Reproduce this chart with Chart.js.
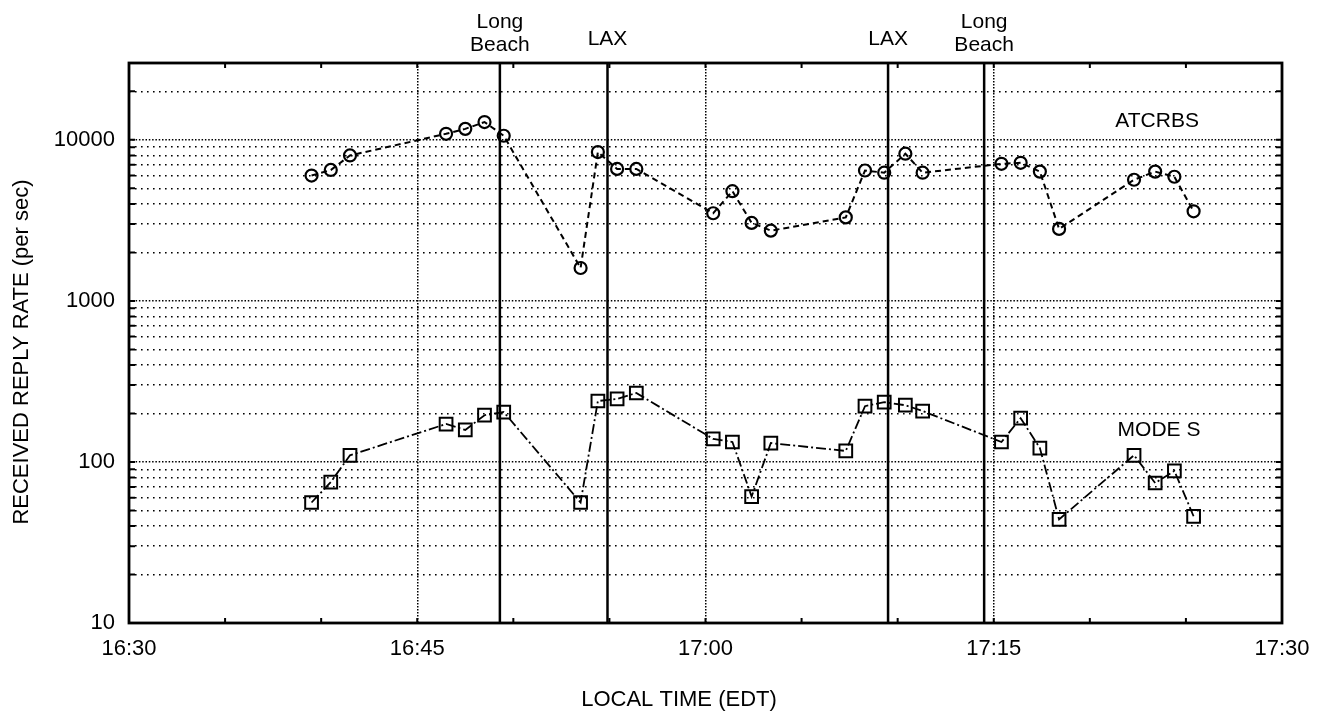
<!DOCTYPE html>
<html lang="en">
<head>
<meta charset="UTF-8">
<title>Received reply rate</title>
<script src="https://cdn.jsdelivr.net/npm/chart.js"></script>
<style>
  html, body { margin: 0; padding: 0; background: #fff; }
  #wrap { width: 1317px; height: 711px; }
</style>
</head>
<body>
<div id="wrap"><canvas id="chart" width="1317" height="711"></canvas></div>
<script>
  // time of each sample, minutes after 16:00
  const times = [39.5, 40.5, 41.5, 46.5, 47.5, 48.5, 49.5, 53.5, 54.4, 55.4, 56.4, 60.4, 61.4, 62.4,
                 63.4, 67.3, 68.3, 69.3, 70.4, 71.3, 75.4, 76.4, 77.4, 78.4, 82.3, 83.4, 84.4, 85.4];
  const atcrbs = [6000, 6500, 8000, 10900, 11700, 12900, 10600, 1600, 8400, 6600, 6600, 3500, 4800, 3050,
                  2730, 3300, 6450, 6250, 8200, 6250, 7100, 7200, 6350, 2800, 5650, 6350, 5900, 3600];
  const modeS = [56, 75, 110, 172, 158, 195, 204, 56, 239, 246, 268, 139, 133, 61,
                 131, 117, 222, 235, 225, 207, 133, 187, 122, 44, 110, 74, 88, 46];

  // airport passes (minutes after 16:00)
  const events = [49.3, 54.9, 69.5, 74.5];
  const eventNames = [['Long', 'Beach'], ['LAX'], ['LAX'], ['Long', 'Beach']];

  // series name labels inside the plot
  const seriesNames = ['ATCRBS', 'MODE S'];
  const seriesLabelTimes = [83.5, 83.6];
  const seriesLabelValues = [13100, 157];

  const xMin = 30, xMax = 90, xStep = 15;
  const yDecades = [10, 100, 1000, 10000];
  const yMax = 30000;

  const FONT = '"Liberation Sans", Arial, Helvetica, sans-serif';
  Chart.defaults.font.family = FONT;
  Chart.defaults.font.size = 22;
  Chart.defaults.color = '#000';

  function fmtTime(m) {
    const h = 16 + Math.floor(m / 60);
    const mm = Math.round(m % 60);
    return h + ':' + String(mm).padStart(2, '0');
  }

  const decor = {
    id: 'decor',
    afterDatasetsDraw(chart) {
      const { ctx, chartArea: a, scales: { x, y } } = chart;
      ctx.save();
      ctx.strokeStyle = '#000';
      ctx.fillStyle = '#000';
      ctx.font = '21px ' + FONT;
      ctx.textAlign = 'center';
      ctx.textBaseline = 'alphabetic';

      // airport pass lines and their names
      events.forEach((t, i) => {
        const px = x.getPixelForValue(t);
        ctx.lineWidth = 2.5;
        ctx.beginPath();
        ctx.moveTo(px, a.top);
        ctx.lineTo(px, a.bottom);
        ctx.stroke();
        const lines = eventNames[i];
        if (lines.length === 2) {
          ctx.fillText(lines[0], px, a.top - 35);
          ctx.fillText(lines[1], px, a.top - 12);
        } else {
          ctx.fillText(lines[0], px, a.top - 18);
        }
      });

      // frame
      ctx.lineWidth = 2.8;
      ctx.strokeRect(a.left, a.top, a.right - a.left, a.bottom - a.top);

      // inward tick marks
      ctx.lineWidth = 2;
      for (let t = xMin + 5; t < xMax; t += 5) {
        const px = x.getPixelForValue(t);
        ctx.beginPath();
        ctx.moveTo(px, a.bottom); ctx.lineTo(px, a.bottom - 5);
        ctx.moveTo(px, a.top); ctx.lineTo(px, a.top + 5);
        ctx.stroke();
      }
      y.ticks.forEach(tk => {
        const py = y.getPixelForValue(tk.value);
        ctx.beginPath();
        ctx.moveTo(a.left, py); ctx.lineTo(a.left + 6, py);
        ctx.moveTo(a.right, py); ctx.lineTo(a.right - 6, py);
        ctx.stroke();
      });

      // series names
      ctx.textBaseline = 'middle';
      seriesNames.forEach((n, i) => {
        ctx.fillText(n, x.getPixelForValue(seriesLabelTimes[i]), y.getPixelForValue(seriesLabelValues[i]));
      });

      // axis titles
      ctx.font = '22px ' + FONT;
      ctx.textBaseline = 'alphabetic';
      ctx.fillText('LOCAL TIME (EDT)', 679, 706);
      ctx.translate(22, 352);
      ctx.rotate(-Math.PI / 2);
      ctx.textBaseline = 'middle';
      ctx.fillText('RECEIVED REPLY RATE (per sec)', 0, 0);
      ctx.restore();
    }
  };

  new Chart(document.getElementById('chart'), {
    type: 'line',
    data: {
      datasets: [
        {
          label: 'ATCRBS',
          data: times.map((t, i) => ({ x: t, y: atcrbs[i] })),
          borderColor: '#000',
          borderWidth: 2,
          borderDash: [6, 4],
          tension: 0,
          pointStyle: 'circle',
          pointRadius: 6,
          pointBorderWidth: 2.2,
          pointBorderColor: '#000',
          pointBackgroundColor: 'rgba(255,255,255,0)'
        },
        {
          label: 'MODE S',
          data: times.map((t, i) => ({ x: t, y: modeS[i] })),
          borderColor: '#000',
          borderWidth: 1.8,
          borderDash: [10, 3, 2, 3],
          tension: 0,
          pointStyle: 'rect',
          pointRadius: 9,
          pointBorderWidth: 2,
          pointBorderColor: '#000',
          pointBackgroundColor: 'rgba(255,255,255,0)'
        }
      ]
    },
    options: {
      responsive: false,
      animation: false,
      layout: { padding: { top: 63, right: 35, left: 0, bottom: 0 } },
      plugins: { legend: { display: false }, tooltip: { enabled: false } },
      scales: {
        x: {
          type: 'linear',
          min: xMin,
          max: xMax,
          afterFit(s) {
            s.height = 88;
            s.paddingLeft = 0;
            s.paddingRight = 0;
          },
          ticks: {
            stepSize: xStep,
            padding: 13,
            maxRotation: 0,
            callback: v => fmtTime(v)
          },
          grid: { color: '#000', lineWidth: 1.5, drawTicks: false },
          border: { display: false, dash: [1.5, 1.5] }
        },
        y: {
          type: 'logarithmic',
          min: 10,
          max: yMax,
          afterFit(s) {
            s.width = 129;
            s.paddingTop = 0;
            s.paddingBottom = 0;
          },
          afterBuildTicks(s) {
            const ticks = [];
            yDecades.forEach(d => {
              for (let k = 1; k <= 9; k++) {
                if (k * d <= yMax) ticks.push({ value: k * d });
              }
            });
            s.ticks = ticks;
          },
          ticks: {
            autoSkip: false,
            padding: 14,
            callback: v => yDecades.includes(v) ? String(v) : ''
          },
          grid: { color: '#000', lineWidth: 1.6, drawTicks: false },
          border: {
            display: false,
            dash: c => (c.tick && yDecades.includes(c.tick.value)) ? [1.5, 1.8] : [1.6, 4.4]
          }
        }
      }
    },
    plugins: [decor]
  });
</script>
</body>
</html>
